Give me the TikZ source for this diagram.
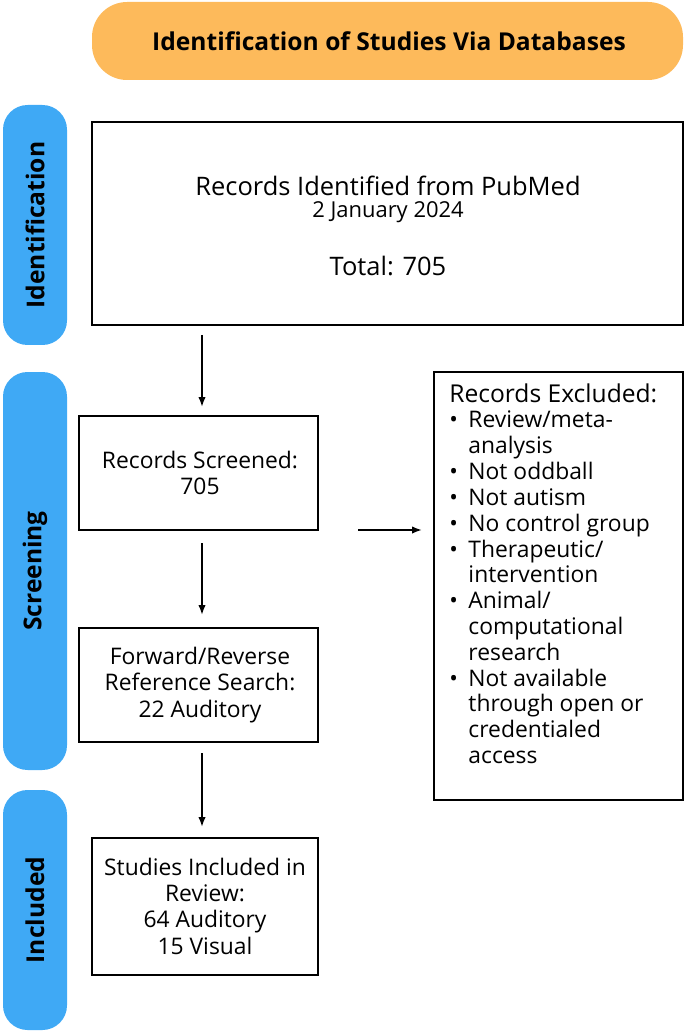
\documentclass[tikz,border=0pt]{standalone}
\usepackage{fontspec}
\setmainfont{Open Sans}
\usetikzlibrary{arrows.meta,positioning}
\definecolor{bandorange}{HTML}{FDBA5B}
\definecolor{bandblue}{HTML}{3FA9F5}
\tikzset{
  stagebar/.style={fill=bandblue,rounded corners=14pt,draw=none},
  stagetext/.style={rotate=90,font=\bfseries\fontsize{14}{16}\selectfont},
  flowbox/.style={align=center,font=\fontsize{13}{15}\selectfont},
  flowarrow/.style={-{Latex[length=2mm]},line width=1pt}
}
\begin{document}
\begin{tikzpicture}[x=0.02cm,y=-0.02cm]
	\useasboundingbox (0,0) rectangle (685,1033);
	% header and stage bars
	\fill[bandorange,rounded corners=20pt] (92,2) rectangle (683,80);
	\node[font=\bfseries\fontsize{14}{16}\selectfont] (title) at (389,41) {Identification of Studies Via Databases};
	\fill[stagebar] (3,105) rectangle (67,345);
	\node[stagetext] (sid) at (35,225) {Identification};
	\fill[stagebar] (3,372) rectangle (67,770);
	\node[stagetext] (sscr) at (35,571) {Screening};
	\fill[stagebar] (3,790) rectangle (67,1030);
	\node[stagetext] (sinc) at (35,910) {Included};

	% boxes
	\draw[line width=1.2pt] (92,122) rectangle (683,325);
	\node[flowbox,font=\fontsize{14.5}{17}\selectfont] (ident) at (388,226) {Records Identified from PubMed\\[-4pt]
		{\fontsize{12.5}{14}\selectfont 2 January 2024}\\[16pt] Total: 705};
	\draw[line width=1.2pt] (79,416) rectangle (318,530);
	\node[flowbox] (screen) at (200,473) {Records Screened:\\705};
	\draw[line width=1.2pt] (79,628) rectangle (318,742);
	\node[flowbox] (search) at (200,685) {Forward/Reverse\\Reference Search:\\22 Auditory};
	\draw[line width=1.2pt] (92,838) rectangle (318,975);
	\node[flowbox] (incl) at (205,906) {Studies Included in\\Review:\\64 Auditory\\15 Visual};
	\draw[line width=1.2pt] (434,372) rectangle (683,800);
	\node[anchor=north west,inner sep=0pt,font=\fontsize{13}{14.7}\selectfont] (excl) at (449,383) {%
		\begin{tabular}{@{}l@{\hspace{6pt}}l@{}}
		\multicolumn{2}{@{}l@{}}{\fontsize{14}{14.7}\selectfont Records Excluded:}\\
		\textbullet & Review/meta-\\
		 & analysis\\
		\textbullet & Not oddball\\
		\textbullet & Not autism\\
		\textbullet & No control group\\
		\textbullet & Therapeutic/\\
		 & intervention\\
		\textbullet & Animal/\\
		 & computational\\
		 & research\\
		\textbullet & Not available\\
		 & through open or\\
		 & credentialed\\
		 & access
		\end{tabular}};

	% arrows
	\coordinate (a1s) at (202,335); \coordinate (a1e) at (202,407);
	\coordinate (a2s) at (202,543); \coordinate (a2e) at (202,615);
	\coordinate (a3s) at (202,753); \coordinate (a3e) at (202,827);
	\coordinate (a4s) at (358,530); \coordinate (a4e) at (422,530);
	\draw[flowarrow] (a1s) -- (a1e);
	\draw[flowarrow] (a2s) -- (a2e);
	\draw[flowarrow] (a3s) -- (a3e);
	\draw[flowarrow] (a4s) -- (a4e);
\end{tikzpicture}
\end{document}
